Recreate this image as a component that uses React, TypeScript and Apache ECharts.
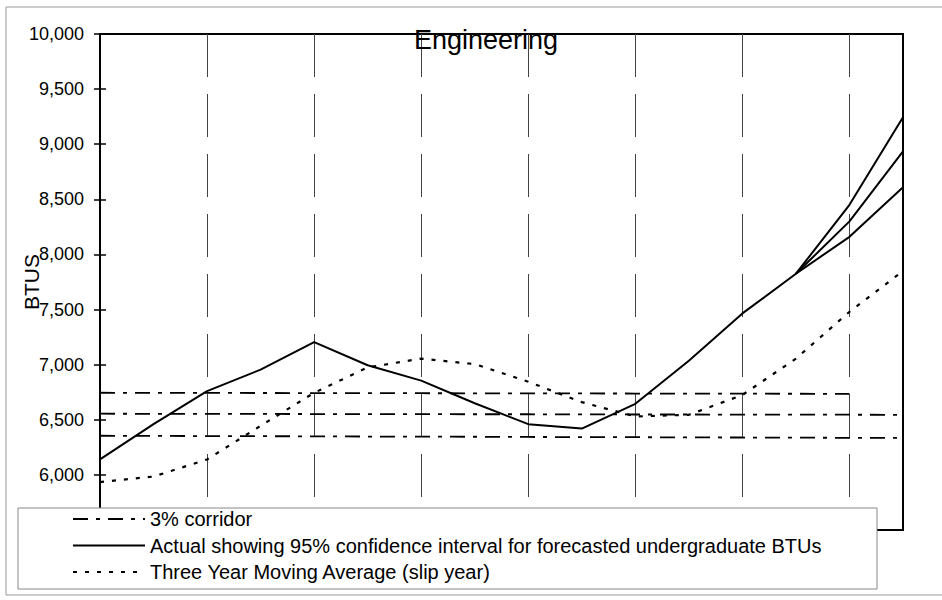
import React, { useEffect, useRef } from "react";
import * as echarts from "echarts";

// ---- data ----
const periods = ["1", "2", "3", "4", "5", "6", "7", "8", "9", "10", "11", "12", "13", "14", "15", "16"];

const actual = [6140, 6460, 6760, 6955, 7205, 6995, 6855, 6650, 6460, 6420, 6645, 7035, 7465, 7825, 8300, 8935];
const upperBound = [null, null, null, null, null, null, null, null, null, null, null, null, null, 7825, 8450, 9245];
const lowerBound = [null, null, null, null, null, null, null, null, null, null, null, null, null, 7825, 8160, 8610];

const movingAverage = [5935, 5985, 6140, 6445, 6745, 6975, 7055, 7005, 6845, 6660, 6530, 6545, 6725, 7055, 7480, 7850];

const corridorHigh = [6745, 6744, 6744, 6743, 6742, 6742, 6741, 6740, 6740, 6739, 6738, 6738, 6737, 6736, 6735];
const corridorMid = [6555, 6554, 6554, 6553, 6552, 6552, 6551, 6550, 6550, 6549, 6548, 6548, 6547, 6546, 6546, 6545];
const corridorLow = [6355, 6354, 6352, 6351, 6350, 6348, 6347, 6346, 6344, 6343, 6342, 6340, 6339, 6338, 6336, 6335];

const Y_MIN = 5500;
const Y_MAX = 10000;
const Y_STEP = 500;

const TITLE = "Engineering";
const Y_NAME = "BTUS";
const CORRIDOR = "3% corridor";
const ACTUAL = "Actual showing 95% confidence interval for forecasted undergraduate BTUs";
const MOVAVG = "Three Year Moving Average (slip year)";

const FONT = "'Liberation Sans', Arial, Helvetica, sans-serif";

export default function App() {
  const ref = useRef<HTMLDivElement>(null);

  useEffect(() => {
    if (!ref.current) return;
    const chart = echarts.init(ref.current, undefined, { renderer: "svg" });

    const corridorStyle = { color: "#000", width: 1.8, type: [15, 8, 4, 8] as number[] };
    const solidStyle = { color: "#000", width: 2 };
    const dotStyle = { color: "#000", width: 2.2, type: [4, 8] as number[] };

    const option: any = {
      animation: false,
      backgroundColor: "#ffffff",
      textStyle: { fontFamily: FONT, color: "#000" },
      title: {
        text: TITLE,
        left: 414,
        top: 26,
        padding: 0,
        textStyle: { fontSize: 27, fontWeight: "normal", color: "#000", fontFamily: FONT },
      },
      grid: {
        left: 100,
        right: 39,
        top: 34,
        height: 496,
        show: true,
        borderColor: "#000",
        borderWidth: 2,
        backgroundColor: "transparent",
      },
      legend: {
        orient: "vertical",
        left: 72,
        top: 509,
        padding: 0,
        itemWidth: 72,
        itemHeight: 14,
        itemGap: 6.5,
        z: 10,
        data: [CORRIDOR, ACTUAL, MOVAVG],
        itemStyle: { opacity: 0 },
        textStyle: { fontSize: 20, color: "#000", fontFamily: FONT },
      },
      xAxis: {
        type: "category",
        data: periods,
        boundaryGap: false,
        axisLine: { show: true, lineStyle: { color: "#000", width: 2 } },
        axisTick: { show: false },
        axisLabel: { show: false },
        splitLine: {
          show: true,
          interval: 1,
          lineStyle: { color: "#444", width: 1, type: [43, 17] },
        },
      },
      yAxis: [
        {
          type: "value",
          min: Y_MIN,
          max: Y_MAX,
          interval: Y_STEP,
          position: "left",
          name: Y_NAME,
          nameLocation: "middle",
          nameRotate: 90,
          nameGap: 58,
          nameMoveOverlap: false,
          nameTextStyle: { fontSize: 21, color: "#000", fontFamily: FONT },
          axisLine: { show: true, lineStyle: { color: "#000", width: 2 } },
          axisTick: { show: true, length: 6, lineStyle: { color: "#000", width: 1.5 } },
          axisLabel: {
            margin: 16,
            fontSize: 18,
            color: "#000",
            fontFamily: FONT,
            formatter: (v: number) => v.toLocaleString("en-US"),
          },
          splitLine: { show: false },
        },
        {
          type: "value",
          min: Y_MIN,
          max: Y_MAX,
          interval: Y_STEP,
          position: "left",
          axisLine: { show: false },
          axisTick: { show: true, inside: true, length: 6, lineStyle: { color: "#000", width: 1.5 } },
          axisLabel: { show: false },
          splitLine: { show: false },
        },
      ],
      series: [
        { name: CORRIDOR, type: "line", data: corridorHigh, symbol: "none", lineStyle: corridorStyle, itemStyle: { color: "#000" }, z: 2 },
        { name: CORRIDOR, type: "line", data: corridorMid, symbol: "none", lineStyle: corridorStyle, itemStyle: { color: "#000" }, z: 2 },
        { name: CORRIDOR, type: "line", data: corridorLow, symbol: "none", lineStyle: corridorStyle, itemStyle: { color: "#000" }, z: 2 },
        { name: ACTUAL, type: "line", data: actual, symbol: "none", lineStyle: solidStyle, itemStyle: { color: "#000" }, z: 3 },
        { name: ACTUAL, type: "line", data: upperBound, symbol: "none", connectNulls: false, lineStyle: solidStyle, itemStyle: { color: "#000" }, z: 3 },
        { name: ACTUAL, type: "line", data: lowerBound, symbol: "none", connectNulls: false, lineStyle: solidStyle, itemStyle: { color: "#000" }, z: 3 },
        { name: MOVAVG, type: "line", data: movingAverage, symbol: "none", lineStyle: dotStyle, itemStyle: { color: "#000" }, z: 2 },
      ],
      graphic: [
        {
          type: "rect",
          silent: true,
          z: 0,
          shape: { x: 6, y: 7, width: 945, height: 588 },
          style: { fill: "none", stroke: "#999", lineWidth: 1 },
        },
        {
          type: "rect",
          silent: true,
          z: 5,
          shape: { x: 18, y: 508, width: 859, height: 81 },
          style: { fill: "#fff", stroke: "#888", lineWidth: 1 },
        },
      ],
    };

    chart.setOption(option);
    return () => {
      chart.dispose();
    };
  }, []);

  return (
    <div
      ref={ref}
      style={{ position: "fixed", left: 0, top: 0, width: 942, height: 600, background: "#fff" }}
    />
  );
}
